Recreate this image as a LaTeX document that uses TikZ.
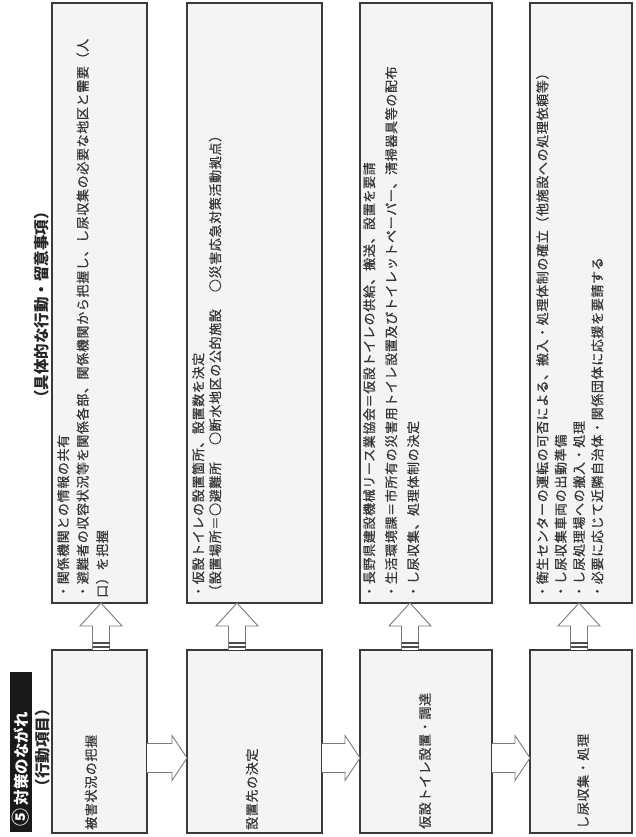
\documentclass[tikz,border=0pt]{standalone}
\usepackage{fontspec}
\newfontfamily\jp[LetterSpace=5,FakeBold=0.6]{Noto Sans CJK JP}
\newfontfamily\jpt{Noto Sans CJK JP}
\usetikzlibrary{calc}
\definecolor{boxfill}{HTML}{F4F4F4}
\definecolor{boxline}{HTML}{3A3A3A}
\definecolor{txt}{HTML}{353535}
\definecolor{arrline}{HTML}{7A7A7A}
\newcommand{\UpArr}[3]{%
  \draw[blockarr] let \p1=(#2.north), \p2=(#3.south) in
    (#1-8.5,\y1) -- (#1-8.5,\y2-23) -- (#1-21,\y2-23) -- (#1,\y2)
    -- (#1+21,\y2-23) -- (#1+8.5,\y2-23) -- (#1+8.5,\y1);
  \draw[stripe] let \p1=(#2.north) in (#1-8.5,\y1+3) -- (#1+8.5,\y1+3);
  \draw[stripe] let \p1=(#2.north) in (#1-8.5,\y1+7) -- (#1+8.5,\y1+7);
}
\newcommand{\RightArr}[3]{%
  \draw[blockarr] let \p1=(#1.east), \p2=(#2.west) in
    (\x1,#3+14.5) -- (\x2-15,#3+14.5) -- (\x2-15,#3+22.5) -- (\x2,#3)
    -- (\x2-15,#3-22.5) -- (\x2-15,#3-14.5) -- (\x1,#3-14.5);
}
\begin{document}
\begin{tikzpicture}[x=1pt,y=1pt,
  box/.style={draw=boxline, line width=1.6pt, fill=boxfill, inner sep=0pt, outer sep=0pt, anchor=south west},
  vtext/.style={rotate=90, anchor=north west, inner sep=0pt, align=left, text=txt,
    font=\jp\fontsize{13}{#1}\selectfont},
  vtext/.default=19,
  btext/.style={rotate=90, anchor=west, inner sep=0pt, text=txt, font=\jp\fontsize{13}{15}\selectfont},
  headtext/.style={rotate=90, inner sep=0pt, text=black!85, font=\jpt\bfseries\fontsize{15.5}{18}\selectfont},
  blockarr/.style={draw=arrline, line width=0.9pt, fill=white, line join=miter},
  stripe/.style={draw=black!70, line width=1.1pt}
]
\useasboundingbox (0,0) rectangle (635,837);
\fill[white] (0,0) rectangle (635,837);

% title
\node[fill=black!90, minimum width=22, minimum height=160, inner sep=0pt] (titlebar) at (21,85) {};
\node[rotate=90, anchor=west, inner sep=0pt, text=white, font=\jpt\bfseries\fontsize{15.5}{18}\selectfont] (titletext) at ($(titlebar.south)+(0,5)$) {{\fontsize{18}{18}\selectfont ⑤} 対策のながれ};
\node[headtext] (koumoku) at (43,89) {（行動項目）};
\node[headtext] (gutai) at (42,532) {（具体的な行動・留意事項）};

% top boxes
\node[box, minimum width=95, minimum height=600] (t1) at (52,234) {};
\node[box, minimum width=135, minimum height=600] (t2) at (187,234) {};
\node[box, minimum width=132, minimum height=600] (t3) at (360,234) {};
\node[box, minimum width=102, minimum height=600] (t4) at (530,234) {};

% bottom boxes
\node[box, minimum width=95, minimum height=183] (b1) at (52,4) {};
\node[box, minimum width=135, minimum height=183] (b2) at (187,4) {};
\node[box, minimum width=132, minimum height=183] (b3) at (360,4) {};
\node[box, minimum width=102, minimum height=183] (b4) at (530,4) {};

% top texts
\node[vtext=19.5] (t1txt) at ($(t1.south west)+(5,5)$)
  {・関係機関との情報の共有\\・避難者の収容状況等を関係各部、関係機関から把握し、し尿収集の必要な地区と需要（人\\口）を把握};
\node[vtext=17] (t2txt) at ($(t2.south west)+(5,5)$)
  {・仮設トイレの設置箇所、設置数を決定\\（設置場所＝○避難所\hspace{17pt}○断水地区の公的施設\hspace{17pt}○災害応急対策活動拠点）};
\node[vtext=22] (t3txt) at ($(t3.south west)+(3,5)$)
  {・長野県建設機械リース業協会＝仮設トイレの供給、搬送、設置を要請\\・生活環境課＝市所有の災害用トイレ設置及びトイレットペーパー、清掃器具等の配布\\・し尿収集、処理体制の決定};
\node[vtext=18.3] (t4txt) at ($(t4.south west)+(6,5)$)
  {・衛生センターの運転の可否による、搬入・処理体制の確立（他施設への処理依頼等）\\・し尿収集車両の出動準備\\・し尿処理場への搬入・処理\\・必要に応じて近隣自治体・関係団体に応援を要請する};

% bottom texts
\node[btext] (b1txt) at (91,7) {被害状況の把握};
\node[btext] (b2txt) at (252,7) {設置先の決定};
\node[btext] (b3txt) at (425,8) {仮設トイレ設置・調達};
\node[btext] (b4txt) at (583,8) {し尿収集・処理};

% arrows
\UpArr{101}{b1}{t1}
\UpArr{237}{b2}{t2}
\UpArr{410}{b3}{t3}
\UpArr{579}{b4}{t4}
\RightArr{b1}{b2}{79}
\RightArr{b2}{b3}{79}
\RightArr{b3}{b4}{79}
\end{tikzpicture}
\end{document}
